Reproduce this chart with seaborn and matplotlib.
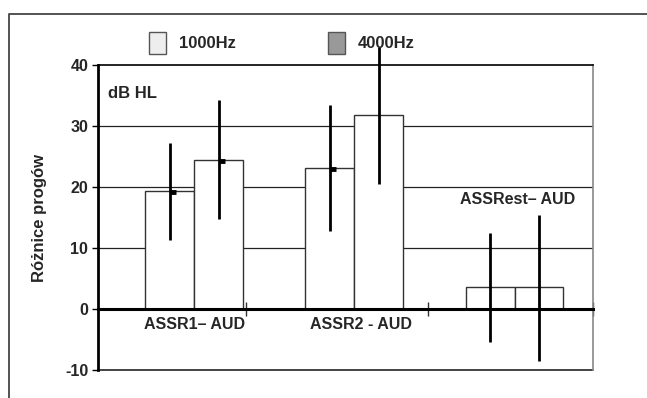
import matplotlib
matplotlib.use("Agg")
import matplotlib.pyplot as plt
from matplotlib.patches import Patch
from matplotlib.lines import Line2D
import seaborn as sns
import pandas as pd

# data (dB HL)
groups = ["ASSR1\u2013 AUD", "ASSR2 - AUD", "ASSRest\u2013 AUD"]
freqs = ["1000Hz", "4000Hz"]
mean_1000 = [19.3, 23.1, 3.6]
mean_4000 = [24.4, 31.8, 3.6]
low_1000 = [11.3, 12.8, -5.4]
high_1000 = [27.2, 33.4, 12.5]
low_4000 = [14.8, 20.5, -8.5]
high_4000 = [34.3, 43.0, 15.4]
mark_1000 = [19.2, 23.0, None]
mark_4000 = [24.3, None, None]
y_ticks = [-10, 0, 10, 20, 30, 40]
x_ticks = [0.325, 1.4625, 2.49]

df = pd.DataFrame({
    "group": groups * 2,
    "freq": [freqs[0]] * 3 + [freqs[1]] * 3,
    "value": mean_1000 + mean_4000,
})

sns.set_style("white")
plt.rcParams["font.family"] = ["Liberation Sans", "DejaVu Sans"]
plt.rcParams["font.weight"] = "bold"

fig = plt.figure(figsize=(6.47, 3.98), dpi=100)
ax = fig.add_axes([98 / 647, 1 - 370 / 398, (593 - 98) / 647, (370 - 65) / 398])

sns.barplot(data=df, x="group", y="value", hue="freq", palette=["white", "white"],
            width=0.61, gap=0, edgecolor="#333333", linewidth=1.0, ax=ax, legend=False)

ax.set_ylim(-10, 40)
ax.set_xlim(-0.6, 2.49)

# horizontal lines
for y in [10, 20, 30]:
    ax.axhline(y, color="#222222", lw=0.9, zorder=0)
ax.axhline(-10, color="#222222", lw=1.2, zorder=0, clip_on=False)

# error bars and mean markers
lows = [low_1000, low_4000]
highs = [high_1000, high_4000]
marks = [mark_1000, mark_4000]
for h, cont in enumerate(ax.containers):
    for i, bar in enumerate(cont.patches):
        xc = bar.get_x() + bar.get_width() / 2
        ax.vlines(xc, lows[h][i], highs[h][i], color="black", lw=2, zorder=5, clip_on=False)
        if marks[h][i] is not None:
            ax.hlines(marks[h][i], xc, xc + 0.04, color="black", lw=3.5, zorder=6)

# spines
ax.spines["bottom"].set_position(("data", 0))
ax.spines["bottom"].set_linewidth(2.2)
ax.spines["bottom"].set_color("black")
ax.spines["left"].set_linewidth(2)
ax.spines["left"].set_color("black")
ax.spines["top"].set_color("black")
ax.spines["top"].set_linewidth(1.2)
ax.spines["right"].set_color("#888888")
ax.spines["right"].set_linewidth(1.2)
for s in ax.spines.values():
    s.set_zorder(4)

ax.set_xticks(x_ticks)
ax.set_xticklabels([])
ax.tick_params(axis="x", direction="inout", length=10, width=1, color="#333333", bottom=True)
ax.set_yticks(y_ticks)
ax.set_yticklabels([str(t) for t in y_ticks], fontsize=11.5, fontweight="bold")
ax.tick_params(axis="y", direction="out", length=4, width=1, color="black", left=True, pad=3)
ax.set_xlabel("")
ax.set_ylabel("Różnice progów", fontsize=12, fontweight="bold", labelpad=13)

# category labels
ax.text(0, -1.3, groups[0], ha="center", va="top", fontsize=11.5, fontweight="bold")
ax.text(1.04, -1.3, groups[1], ha="center", va="top", fontsize=11.5, fontweight="bold")
ax.text(2.02, 16.8, groups[2], ha="center", va="bottom", fontsize=11.5, fontweight="bold")
ax.text(0.02, 0.93, "dB HL", transform=ax.transAxes, ha="left", va="top",
        fontsize=12, fontweight="bold")

# legend
handles = [Patch(facecolor="#eeeeee", edgecolor="#555555", lw=1),
           Patch(facecolor="#999999", edgecolor="#555555", lw=1)]
fig.legend(handles, freqs, loc="center", bbox_to_anchor=(0.436, 1 - 43 / 398), ncol=2,
           frameon=False, handlelength=1.0, handleheight=1.6, handletextpad=0.8,
           columnspacing=5.5, prop={"size": 12, "weight": "bold"})

# outer frame
fig.add_artist(Line2D([9 / 647, 9 / 647, 1], [0, 1 - 14 / 398, 1 - 14 / 398],
                      transform=fig.transFigure, color="#444444", lw=1.3))

fig.savefig("out.png", dpi=100)
